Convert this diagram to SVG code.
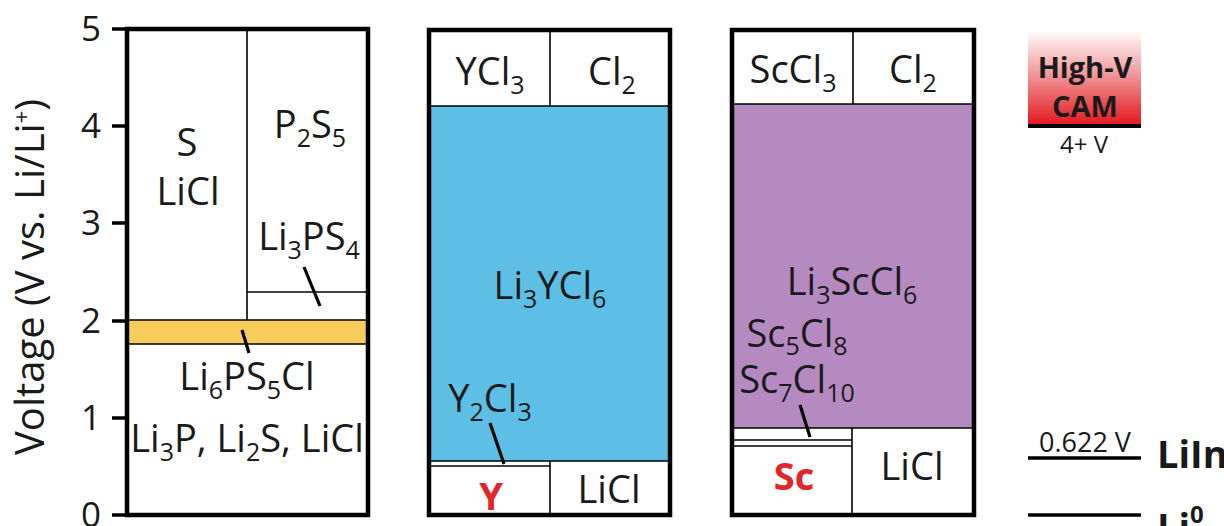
<svg xmlns="http://www.w3.org/2000/svg" width="1224" height="526" viewBox="0 0 1224 526">
  <defs>
    <linearGradient id="camGrad" x1="0" y1="0" x2="0" y2="1">
      <stop offset="0" stop-color="#ffffff"/>
      <stop offset="0.45" stop-color="#f19a9c"/>
      <stop offset="1" stop-color="#e3161c"/>
    </linearGradient>
    <style>
      text { font-family: "Open Sans", "Liberation Sans", sans-serif; fill: #1a1a1a; }
      .lbl { font-size: 38px; text-anchor: middle; }
      .sub { font-size: 25px; }
      .tick { font-size: 35px; text-anchor: end; }
      .frame { fill: none; stroke: #000; stroke-width: 4.5; }
      .thin { stroke: #000; stroke-width: 1.6; fill: none; }
      .leader { stroke: #000; stroke-width: 3.2; fill: none; }
      .red { fill: #e3262b; font-weight: bold; }
      .bold { font-weight: bold; }
    </style>
  </defs>
  <rect width="1224" height="526" fill="#ffffff"/>

  <g id="axis">
    <g stroke="#000" stroke-width="3.5">
      <line x1="112" y1="29" x2="127" y2="29"/>
      <line x1="112" y1="126" x2="127" y2="126"/>
      <line x1="112" y1="223" x2="127" y2="223"/>
      <line x1="112" y1="321" x2="127" y2="321"/>
      <line x1="112" y1="418" x2="127" y2="418"/>
      <line x1="112" y1="515" x2="127" y2="515"/>
    </g>
    <text class="tick" x="101" y="41">5</text>
    <text class="tick" x="101" y="138">4</text>
    <text class="tick" x="101" y="235">3</text>
    <text class="tick" x="101" y="333">2</text>
    <text class="tick" x="101" y="430">1</text>
    <text class="tick" x="101" y="527">0</text>
    <text transform="translate(44,277) rotate(-90)" x="0" y="0" font-size="40" text-anchor="middle">Voltage (V vs. Li/Li<tspan font-size="22" dy="-15">+</tspan><tspan dy="15">)</tspan></text>
  </g>

  <g id="panel-lps">
    <rect x="127" y="320" width="241" height="24" fill="#f8cd5b"/>
    <line class="thin" x1="247" y1="29" x2="247" y2="320"/>
    <line class="thin" x1="247" y1="292" x2="368" y2="292"/>
    <line class="thin" x1="127" y1="320" x2="368" y2="320"/>
    <line class="thin" x1="127" y1="344" x2="368" y2="344"/>
    <rect class="frame" x="127" y="29" width="241" height="486"/>
    <text class="lbl" x="187" y="156">S</text>
    <text class="lbl" x="188" y="205">LiCl</text>
    <text class="lbl" x="310" y="138">P<tspan class="sub" dy="9">2</tspan><tspan dy="-9">S</tspan><tspan class="sub" dy="9">5</tspan></text>
    <text class="lbl" x="309" y="250">Li<tspan class="sub" dy="9">3</tspan><tspan dy="-9">PS</tspan><tspan class="sub" dy="9">4</tspan></text>
    <text class="lbl" x="247" y="390">Li<tspan class="sub" dy="9">6</tspan><tspan dy="-9">PS</tspan><tspan class="sub" dy="9">5</tspan><tspan dy="-9">Cl</tspan></text>
    <text class="lbl" x="247" y="452">Li<tspan class="sub" dy="9">3</tspan><tspan dy="-9">P, Li</tspan><tspan class="sub" dy="9">2</tspan><tspan dy="-9">S, LiCl</tspan></text>
  </g>

  <g id="panel-lycl">
    <rect x="429" y="106" width="241" height="355" fill="#5dbfe6"/>
    <line class="thin" x1="550" y1="30" x2="550" y2="106"/>
    <line class="thin" x1="429" y1="106" x2="670" y2="106"/>
    <line class="thin" x1="429" y1="461" x2="670" y2="461"/>
    <line class="thin" x1="429" y1="466" x2="550" y2="466"/>
    <line class="thin" x1="550" y1="461" x2="550" y2="515"/>
    <rect class="frame" x="429" y="30" width="241" height="485"/>
    <text class="lbl" x="490" y="85">YCl<tspan class="sub" dy="9">3</tspan></text>
    <text class="lbl" x="612" y="85">Cl<tspan class="sub" dy="9">2</tspan></text>
    <text class="lbl" x="550" y="299">Li<tspan class="sub" dy="9">3</tspan><tspan dy="-9">YCl</tspan><tspan class="sub" dy="9">6</tspan></text>
    <text class="lbl" x="490" y="412">Y<tspan class="sub" dy="9">2</tspan><tspan dy="-9">Cl</tspan><tspan class="sub" dy="9">3</tspan></text>
    <text class="lbl red" x="491" y="510">Y</text>
    <text class="lbl" x="609" y="503">LiCl</text>
  </g>

  <g id="panel-lscl">
    <rect x="732" y="104" width="242" height="324" fill="#b48ac0"/>
    <line class="thin" x1="853" y1="30" x2="853" y2="104"/>
    <line class="thin" x1="732" y1="104" x2="974" y2="104"/>
    <line class="thin" x1="732" y1="428" x2="974" y2="428"/>
    <line class="thin" x1="732" y1="440" x2="852" y2="440"/>
    <line class="thin" x1="732" y1="446" x2="852" y2="446"/>
    <line class="thin" x1="852" y1="428" x2="852" y2="515"/>
    <rect class="frame" x="732" y="30" width="242" height="485"/>
    <text class="lbl" x="793" y="83">ScCl<tspan class="sub" dy="9">3</tspan></text>
    <text class="lbl" x="913" y="83">Cl<tspan class="sub" dy="9">2</tspan></text>
    <text class="lbl" x="852" y="295">Li<tspan class="sub" dy="9">3</tspan><tspan dy="-9">ScCl</tspan><tspan class="sub" dy="9">6</tspan></text>
    <text class="lbl" x="797" y="347">Sc<tspan class="sub" dy="8">5</tspan><tspan dy="-8">Cl</tspan><tspan class="sub" dy="8">8</tspan></text>
    <text class="lbl" x="797" y="393">Sc<tspan class="sub" dy="9">7</tspan><tspan dy="-9">Cl</tspan><tspan class="sub" dy="9">10</tspan></text>
    <text class="lbl red" x="794" y="490">Sc</text>
    <text class="lbl" x="912" y="480">LiCl</text>
  </g>

  <g id="leaders">
    <line class="leader" x1="304" y1="267" x2="320" y2="306"/>
    <line class="leader" x1="242" y1="330" x2="249" y2="353"/>
    <line class="leader" x1="490" y1="423" x2="504" y2="464"/>
    <line class="leader" x1="800" y1="405" x2="810" y2="437"/>
  </g>

  <g id="legend-cam">
    <rect x="1028" y="30" width="113" height="96" fill="url(#camGrad)"/>
    <line x1="1028" y1="126" x2="1141" y2="126" stroke="#000" stroke-width="4"/>
    <text class="bold" x="1085" y="78" font-size="29" text-anchor="middle">High-V</text>
    <text class="bold" x="1085" y="117" font-size="29" text-anchor="middle">CAM</text>
    <text x="1084" y="153" font-size="24" text-anchor="middle">4+ V</text>
  </g>

  <g id="legend-liin">
    <line x1="1028" y1="458" x2="1141" y2="458" stroke="#000" stroke-width="3.5"/>
    <text x="1085" y="452" font-size="27" text-anchor="middle">0.622 V</text>
    <text class="bold" x="1157" y="468" font-size="38">LiIn</text>
  </g>

  <g id="legend-li0">
    <line x1="1028" y1="515" x2="1141" y2="515" stroke="#000" stroke-width="3.5"/>
    <text class="bold" x="1157" y="541" font-size="38">Li<tspan font-size="24" dy="-18">0</tspan></text>
  </g>
</svg>
